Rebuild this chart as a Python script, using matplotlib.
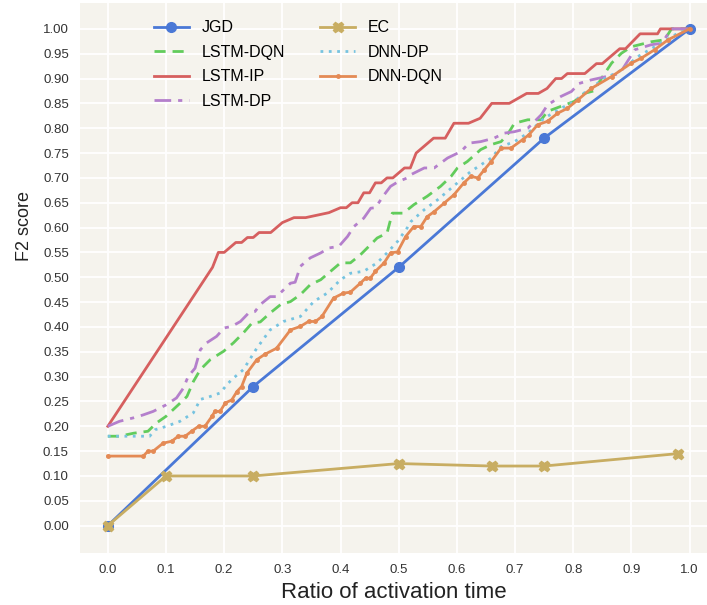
import matplotlib
matplotlib.use("Agg")
import matplotlib.pyplot as plt

plt.rcParams['font.family'] = ['Liberation Sans', 'DejaVu Sans']

# ---------------------- data ----------------------
jgd_x = [0.0, 0.25, 0.5, 0.75, 1.0]
jgd_y = [0.0, 0.28, 0.52, 0.78, 1.0]

ec_x = [0.0, 0.1, 0.25, 0.5, 0.66, 0.75, 0.98]
ec_y = [0.0, 0.10, 0.10, 0.125, 0.12, 0.12, 0.145]

ip_x = [0.0, 0.18, 0.19, 0.20, 0.22, 0.23, 0.24, 0.25, 0.26, 0.28, 0.30, 0.32, 0.34,
        0.38, 0.40, 0.41, 0.42, 0.43, 0.44, 0.45, 0.46, 0.47, 0.48, 0.49, 0.51, 0.52,
        0.53, 0.54, 0.56, 0.58, 0.595, 0.62, 0.64, 0.66, 0.69, 0.705, 0.72, 0.74, 0.755,
        0.77, 0.78, 0.79, 0.82, 0.84, 0.85, 0.88, 0.89, 0.915, 0.945, 0.95, 0.975, 1.0]
ip_y = [0.20, 0.52, 0.55, 0.55, 0.57, 0.57, 0.58, 0.58, 0.59, 0.59, 0.61, 0.62, 0.62,
        0.63, 0.64, 0.64, 0.65, 0.65, 0.67, 0.67, 0.69, 0.69, 0.70, 0.70, 0.72, 0.72,
        0.75, 0.76, 0.78, 0.78, 0.81, 0.81, 0.82, 0.85, 0.85, 0.86, 0.87, 0.87, 0.88,
        0.90, 0.90, 0.91, 0.91, 0.93, 0.93, 0.96, 0.96, 0.99, 0.99, 1.0, 1.0, 1.0]

ldp_x = [0.0, 0.02, 0.044, 0.061, 0.078, 0.10, 0.118, 0.13, 0.138, 0.15, 0.159, 0.17,
         0.187, 0.20, 0.213, 0.228, 0.242, 0.253, 0.262, 0.279, 0.29, 0.314, 0.322, 0.331,
         0.348, 0.366, 0.38, 0.397, 0.412, 0.423, 0.44, 0.452, 0.46, 0.475, 0.486, 0.50,
         0.515, 0.52, 0.544, 0.561, 0.584, 0.607, 0.621, 0.641, 0.664, 0.681, 0.699, 0.722,
         0.745, 0.756, 0.779, 0.797, 0.81, 0.83, 0.88, 0.906, 0.934, 0.952, 0.969, 1.0]
ldp_y = [0.20, 0.21, 0.217, 0.223, 0.23, 0.243, 0.257, 0.277, 0.30, 0.317, 0.354, 0.368,
         0.381, 0.398, 0.401, 0.411, 0.428, 0.431, 0.445, 0.461, 0.461, 0.488, 0.49, 0.522,
         0.539, 0.549, 0.559, 0.562, 0.582, 0.602, 0.619, 0.639, 0.64, 0.666, 0.683, 0.693,
         0.70, 0.706, 0.72, 0.72, 0.74, 0.753, 0.77, 0.773, 0.78, 0.79, 0.793, 0.80,
         0.827, 0.847, 0.864, 0.874, 0.89, 0.897, 0.91, 0.958, 0.968, 0.971, 1.0, 1.0]

ldqn_x = [0.0, 0.02, 0.044, 0.069, 0.084, 0.10, 0.121, 0.136, 0.147, 0.159, 0.176, 0.199,
          0.216, 0.233, 0.248, 0.262, 0.279, 0.297, 0.314, 0.331, 0.348, 0.366, 0.383, 0.40,
          0.417, 0.434, 0.446, 0.463, 0.48, 0.489, 0.508, 0.526, 0.549, 0.572, 0.59, 0.601,
          0.618, 0.641, 0.659, 0.676, 0.687, 0.699, 0.722, 0.745, 0.756, 0.779, 0.802, 0.819,
          0.835, 0.854, 0.866, 0.883, 0.90, 0.934, 0.957, 0.969, 1.0]
ldqn_y = [0.18, 0.18, 0.186, 0.19, 0.207, 0.22, 0.243, 0.26, 0.29, 0.314, 0.334, 0.351,
          0.368, 0.388, 0.408, 0.41, 0.428, 0.445, 0.451, 0.465, 0.485, 0.495, 0.512, 0.529,
          0.529, 0.545, 0.559, 0.579, 0.589, 0.629, 0.629, 0.646, 0.663, 0.683, 0.703, 0.72,
          0.733, 0.757, 0.767, 0.773, 0.787, 0.81, 0.817, 0.817, 0.834, 0.844, 0.854, 0.87,
          0.875, 0.91, 0.931, 0.951, 0.964, 0.974, 0.978, 1.0, 1.0]

ddp_x = [0.0, 0.032, 0.072, 0.081, 0.101, 0.124, 0.147, 0.159, 0.176, 0.193, 0.205, 0.213,
         0.233, 0.256, 0.279, 0.302, 0.331, 0.354, 0.377, 0.40, 0.417, 0.44, 0.463, 0.48,
         0.498, 0.515, 0.521, 0.544, 0.567, 0.584, 0.607, 0.624, 0.641, 0.659, 0.676, 0.699,
         0.722, 0.75, 0.779, 0.802, 0.825, 0.854, 0.883, 0.911, 0.94, 0.975, 1.0]
ddp_y = [0.18, 0.18, 0.18, 0.193, 0.20, 0.21, 0.227, 0.254, 0.26, 0.267, 0.284, 0.294,
         0.314, 0.357, 0.394, 0.411, 0.421, 0.451, 0.468, 0.495, 0.508, 0.512, 0.529, 0.549,
         0.572, 0.60, 0.612, 0.636, 0.656, 0.673, 0.696, 0.713, 0.726, 0.74, 0.763, 0.773,
         0.79, 0.82, 0.84, 0.854, 0.877, 0.90, 0.917, 0.944, 0.964, 0.988, 1.0]

ddqn_x = [0.0, 0.061, 0.069, 0.078, 0.095, 0.11, 0.121, 0.133, 0.144, 0.156, 0.167, 0.179,
          0.184, 0.193, 0.202, 0.213, 0.222, 0.23, 0.239, 0.256, 0.27, 0.29, 0.314, 0.331,
          0.345, 0.357, 0.368, 0.388, 0.405, 0.417, 0.434, 0.443, 0.451, 0.46, 0.475, 0.486,
          0.498, 0.512, 0.526, 0.538, 0.549, 0.561, 0.578, 0.595, 0.612, 0.624, 0.636, 0.647,
          0.659, 0.676, 0.693, 0.713, 0.724, 0.739, 0.756, 0.773, 0.79, 0.808, 0.831, 0.866,
          0.90, 0.917, 0.94, 0.963, 1.0]
ddqn_y = [0.14, 0.14, 0.15, 0.15, 0.166, 0.17, 0.18, 0.18, 0.19, 0.20, 0.20, 0.22,
          0.23, 0.23, 0.247, 0.253, 0.27, 0.28, 0.307, 0.334, 0.345, 0.357, 0.394, 0.401,
          0.411, 0.411, 0.421, 0.458, 0.468, 0.47, 0.488, 0.498, 0.498, 0.512, 0.529, 0.549,
          0.551, 0.582, 0.602, 0.602, 0.622, 0.632, 0.649, 0.666, 0.69, 0.703, 0.70, 0.716,
          0.733, 0.76, 0.76, 0.777, 0.787, 0.807, 0.814, 0.83, 0.84, 0.857, 0.88, 0.904,
          0.931, 0.941, 0.958, 0.978, 1.0]

x_ticks = [i / 10 for i in range(11)]
y_ticks = [i / 20 for i in range(21)]

# ---------------------- plot ----------------------
fig = plt.figure(figsize=(7.07, 6.05), dpi=100)
ax = fig.add_axes([0.113, 0.086, 0.887, 0.909])
ax.set_facecolor('#f5f3ed')
for s in ax.spines.values():
    s.set_visible(False)
ax.grid(True, color='white', linewidth=1.3)
ax.set_axisbelow(True)

lw = 2
ax.plot(jgd_x, jgd_y, color='#4a78d6', lw=lw, marker='o', ms=7, label='JGD')
ax.plot(ldqn_x, ldqn_y, color='#62cc5c', lw=lw, ls=(0, (4, 2.5)), label='LSTM-DQN')
ax.plot(ip_x, ip_y, color='#d65f5f', lw=lw, label='LSTM-IP')
ax.plot(ldp_x, ldp_y, color='#b47fcc', lw=lw, ls=(0, (6, 2.5, 1.5, 2.5)), label='LSTM-DP')
ax.plot(ec_x, ec_y, color='#c8ad62', lw=lw, marker='X', ms=7.5, label='EC')
ax.plot(ddp_x, ddp_y, color='#76c3e0', lw=lw, ls=(0, (1, 2)), label='DNN-DP')
ax.plot(ddqn_x, ddqn_y, color='#e48a55', lw=lw, marker='o', ms=2.5, label='DNN-DQN')

ax.set_xlim(-0.048, 1.03)
ax.set_ylim(-0.055, 1.052)
ax.set_xticks(x_ticks)
ax.set_xticklabels([f'{v:.1f}' for v in x_ticks])
ax.set_yticks(y_ticks)
ax.set_yticklabels([f'{v:.2f}' for v in y_ticks])
ax.tick_params(length=0, labelsize=9.5, labelcolor='#333333', pad=8)

ax.set_xlabel('Ratio of activation time', fontsize=16, color='#222222')
ax.set_ylabel('F2 score', fontsize=13, color='#222222')
ax.yaxis.set_label_coords(-0.075, 0.595)

ax.legend(loc='upper left', bbox_to_anchor=(0.095, 0.995), ncol=2, frameon=False,
          fontsize=11.5, handlelength=2.2, columnspacing=2.2, labelspacing=0.6)

fig.savefig('out.png', dpi=100)
